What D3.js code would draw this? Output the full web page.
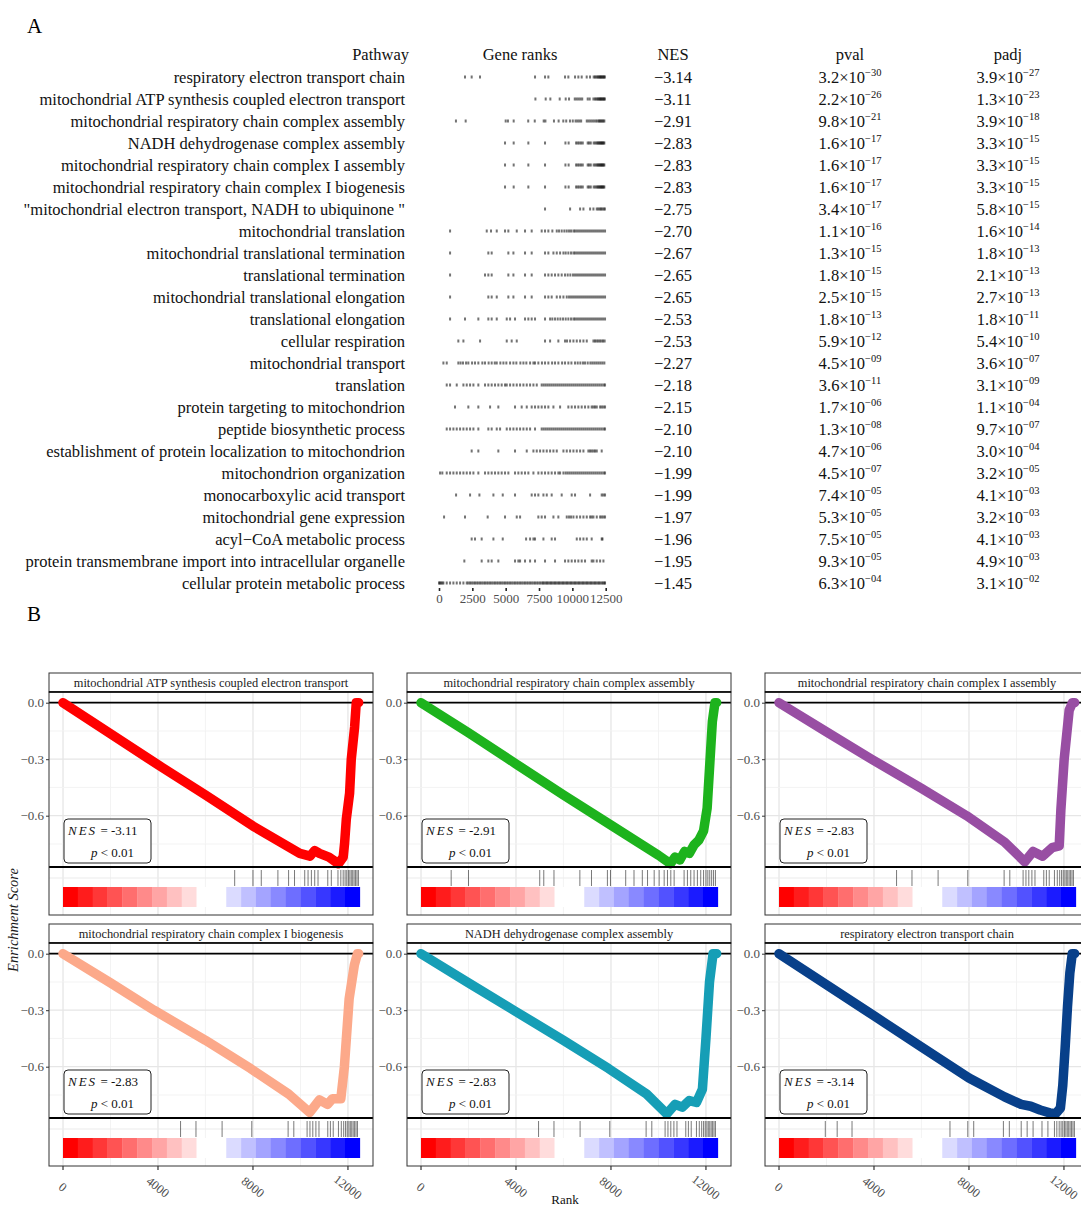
<!DOCTYPE html>
<html>
<head>
<meta charset="utf-8">
<script src="https://cdn.jsdelivr.net/npm/d3@7"></script>
<style>
  body { margin: 0; background: #fff; }
  text { font-family: "Liberation Serif", "Times New Roman", serif; }
</style>
</head>
<body>
<script>
// ---- panel A table data ----
const pathways = [
  "respiratory electron transport chain",
  "mitochondrial ATP synthesis coupled electron transport",
  "mitochondrial respiratory chain complex assembly",
  "NADH dehydrogenase complex assembly",
  "mitochondrial respiratory chain complex I assembly",
  "mitochondrial respiratory chain complex I biogenesis",
  "\"mitochondrial electron transport, NADH to ubiquinone \"",
  "mitochondrial translation",
  "mitochondrial translational termination",
  "translational termination",
  "mitochondrial translational elongation",
  "translational elongation",
  "cellular respiration",
  "mitochondrial transport",
  "translation",
  "protein targeting to mitochondrion",
  "peptide biosynthetic process",
  "establishment of protein localization to mitochondrion",
  "mitochondrion organization",
  "monocarboxylic acid transport",
  "mitochondrial gene expression",
  "acyl\u2212CoA metabolic process",
  "protein transmembrane import into intracellular organelle",
  "cellular protein metabolic process"
];
const nesValues = [-3.14, -3.11, -2.91, -2.83, -2.83, -2.83, -2.75, -2.70, -2.67, -2.65, -2.65, -2.53,
  -2.53, -2.27, -2.18, -2.15, -2.10, -2.10, -1.99, -1.99, -1.97, -1.96, -1.95, -1.45];
const pvalValues = [3.2e-30, 2.2e-26, 9.8e-21, 1.6e-17, 1.6e-17, 1.6e-17, 3.4e-17, 1.1e-16, 1.3e-15, 1.8e-15,
  2.5e-15, 1.8e-13, 5.9e-12, 4.5e-9, 3.6e-11, 1.7e-6, 1.3e-8, 4.7e-6, 4.5e-7, 7.4e-5, 5.3e-5, 7.5e-5, 9.3e-5, 6.3e-4];
const padjValues = [3.9e-27, 1.3e-23, 3.9e-18, 3.3e-15, 3.3e-15, 3.3e-15, 5.8e-15, 1.6e-14, 1.8e-13, 2.1e-13,
  2.7e-13, 1.8e-11, 5.4e-10, 3.6e-7, 3.1e-9, 1.1e-4, 9.7e-7, 3.0e-4, 3.2e-5, 4.1e-3, 3.2e-3, 4.1e-3, 4.9e-3, 3.1e-2];
const rankTicks = [0, 2500, 5000, 7500, 10000, 12500];

// gene positions in the ranked list, one list per pathway
const geneRanks = [
  [1950, 2450, 3075, 7200, 7950, 8200, 9450, 9700, 10200, 10450, 10700, 11075, 11325, 11600, 11700, 11800, 11880, 11950, 12020, 12080, 12140, 12200, 12260, 12320, 12380, 12440],
  [7230, 8000, 8350, 9050, 9500, 9750, 10180, 10320, 10460, 10600, 10740, 11150, 11300, 11580, 11700, 11800, 11880, 11950, 12020, 12080, 12140, 12200, 12260, 12320, 12380, 12440],
  [1270, 2000, 5000, 5170, 5600, 6690, 7180, 7850, 7980, 8620, 8970, 9320, 9540, 9820, 10030, 10240, 10380, 10520, 10660, 11080, 11220, 11360, 11500, 11640, 11780, 11900, 12000, 12080, 12160, 12240, 12320, 12400],
  [4950, 5600, 6700, 7950, 9480, 9720, 10280, 10400, 10520, 10650, 10780, 11150, 11260, 11380, 11600, 11720, 11820, 11900, 11970, 12040, 12100, 12160, 12220, 12280, 12340, 12400],
  [4950, 5600, 6700, 7950, 9480, 9720, 10280, 10400, 10520, 10650, 10780, 11150, 11260, 11380, 11600, 11720, 11820, 11900, 11970, 12040, 12100, 12160, 12220, 12280, 12340, 12400],
  [4950, 5600, 6700, 7950, 9480, 9720, 10280, 10400, 10520, 10650, 10780, 11150, 11260, 11380, 11600, 11720, 11820, 11900, 11970, 12040, 12100, 12160, 12220, 12280, 12340, 12400],
  [7950, 9830, 10580, 10830, 11330, 11580, 11830, 11950, 12050, 12150, 12250, 12350, 12440],
  [830, 3580, 3900, 4330, 4950, 5200, 5830, 6450, 6950, 7700, 7950, 8200, 8500, 8830, 9000, 9200, 9400, 9580, 9750, 9900, 10080, 10200, 10350, 10500, 10650, 10800, 10950, 11100, 11250, 11400, 11550, 11700, 11850, 12000, 12150, 12300, 12450],
  [830, 3700, 3950, 5200, 5580, 6450, 6950, 7950, 8200, 8580, 8830, 9080, 9330, 9500, 9700, 9900, 10080, 10200, 10350, 10500, 10650, 10800, 10950, 11100, 11250, 11400, 11550, 11700, 11850, 12000, 12150, 12300, 12450],
  [830, 3450, 3700, 3950, 5200, 5580, 6450, 6950, 7950, 8200, 8450, 8700, 8950, 9200, 9450, 9650, 9850, 10050, 10200, 10350, 10500, 10650, 10800, 10950, 11100, 11250, 11400, 11550, 11700, 11850, 12000, 12150, 12300, 12450],
  [830, 3700, 3950, 4330, 5200, 5580, 6450, 6950, 7950, 8200, 8450, 8830, 9080, 9330, 9580, 9750, 9900, 10050, 10200, 10350, 10500, 10650, 10800, 10950, 11100, 11250, 11400, 11550, 11700, 11850, 12000, 12150, 12300, 12450],
  [830, 1950, 2950, 3700, 3950, 4330, 5080, 5330, 5700, 6450, 6700, 6950, 7200, 7950, 8330, 8500, 8700, 8900, 9100, 9300, 9500, 9700, 9900, 10080, 10200, 10350, 10500, 10650, 10800, 10950, 11100, 11250, 11400, 11550, 11700, 11850, 12000, 12150, 12300, 12450],
  [1450, 1830, 3080, 5080, 5450, 5830, 7950, 8330, 8950, 9450, 9600, 9830, 10080, 10330, 10580, 10830, 11080, 11580, 11700, 11820, 11940, 12060, 12180, 12300, 12420],
  [330, 580, 1450, 1620, 1800, 2030, 2200, 2480, 2700, 2950, 3250, 3450, 3720, 3950, 4180, 4330, 4600, 4830, 5050, 5330, 5580, 5800, 6100, 6330, 6550, 6830, 7080, 7200, 7450, 7720, 7950, 8200, 8480, 8700, 8950, 9230, 9450, 9700, 9930, 10200, 10400, 10600, 10800, 10950, 11150, 11350, 11500, 11650, 11800, 11950, 12100, 12250, 12400],
  [580, 830, 1330, 1830, 2080, 2330, 2580, 2950, 3450, 3700, 3950, 4200, 4450, 4700, 4950, 5080, 5330, 5580, 5830, 6080, 6330, 6580, 6830, 7080, 7330, 7700, 7850, 8000, 8150, 8300, 8450, 8600, 8750, 8900, 9050, 9200, 9350, 9500, 9650, 9800, 9950, 10100, 10250, 10400, 10550, 10700, 10850, 11000, 11150, 11300, 11450, 11600, 11750, 11900, 12050, 12200, 12350, 12450],
  [1200, 2200, 2950, 3830, 4450, 5700, 6200, 6580, 6950, 7200, 7450, 7700, 7950, 8200, 8580, 9080, 9700, 9950, 10200, 10450, 10700, 10950, 11200, 11450, 11580, 11700, 11830, 12080, 12200, 12330, 12450],
  [580, 830, 1080, 1330, 1580, 1830, 2080, 2330, 2580, 2950, 3700, 3950, 4330, 4580, 5080, 5330, 5580, 5830, 6080, 6330, 6580, 6830, 7200, 7700, 7850, 8000, 8150, 8300, 8450, 8600, 8750, 8900, 9050, 9200, 9350, 9500, 9650, 9800, 9950, 10100, 10250, 10400, 10550, 10700, 10850, 11000, 11150, 11300, 11450, 11600, 11750, 11900, 12050, 12200, 12350, 12450],
  [2450, 2950, 4450, 5700, 6580, 7080, 7330, 7580, 7830, 8080, 8330, 8580, 8830, 9330, 9580, 9830, 10080, 10330, 10580, 10830, 11200, 11330, 11450, 11580, 11700, 11830, 12200],
  [80, 250, 580, 830, 1080, 1330, 1580, 1830, 2080, 2330, 2580, 2950, 3450, 3700, 3950, 4200, 4450, 4700, 4950, 5200, 5700, 5950, 6200, 6450, 6700, 7080, 7450, 7700, 7950, 8200, 8450, 8700, 8950, 9080, 9330, 9500, 9650, 9800, 9950, 10100, 10250, 10400, 10550, 10700, 10850, 11000, 11150, 11300, 11450, 11600, 11750, 11900, 12050, 12200, 12350, 12450],
  [1280, 2330, 3030, 4080, 4780, 5700, 6950, 7200, 7450, 7830, 8080, 8450, 9200, 9950, 10200, 11330, 12200, 12330, 12450],
  [380, 1950, 3650, 4950, 5830, 6080, 7450, 7700, 7950, 8580, 8950, 9580, 9750, 9900, 10080, 10330, 10580, 10830, 11080, 11330, 11450, 11580, 11830, 12080, 12200, 12330, 12450],
  [2450, 2700, 3200, 4080, 4780, 6530, 6830, 7080, 7200, 7830, 8450, 8700, 10330, 10580, 10830, 11080, 11450, 12200, 12260],
  [1900, 3200, 3700, 3950, 4450, 5700, 5950, 6080, 6450, 6830, 7200, 7950, 8700, 9450, 9700, 9950, 10200, 10450, 10700, 10950, 11450, 11580, 11830, 12080, 12330],
  [0, 60, 150, 250, 330, 580, 830, 1080, 1330, 1580, 1830, 2080, 2200, 2330, 2450, 2580, 2700, 2830, 2950, 3080, 3200, 3330, 3450, 3580, 3700, 3830, 3950, 4080, 4200, 4330, 4450, 4580, 4700, 4830, 4950, 5080, 5200, 5330, 5450, 5580, 5700, 5830, 5950, 6080, 6200, 6330, 6450, 6580, 6700, 6830, 6950, 7080, 7200, 7330, 7450, 7580, 7700, 7800, 7900, 8000, 8100, 8200, 8300, 8400, 8500, 8600, 8700, 8800, 8900, 9000, 9100, 9200, 9300, 9400, 9500, 9600, 9700, 9800, 9900, 10000, 10100, 10200, 10300, 10400, 10500, 10600, 10700, 10800, 10900, 11000, 11100, 11200, 11300, 11400, 11500, 11600, 11700, 11800, 11900, 12000, 12100, 12200, 12300, 12400, 12450]
];

// ---- panel B: six running enrichment score plots ----
const plotSets = [1, 2, 4, 5, 3, 0];   // index into pathways
const plotColors = ["#FF0000", "#1DB31D", "#984EA3", "#FCA98A", "#169EB6", "#08408A"];
const esCurves = [
  [[0, 0], [2000, -0.165], [4000, -0.33], [6000, -0.49], [8000, -0.655], [9970, -0.80], [10400, -0.815], [10600, -0.785], [10800, -0.80], [11200, -0.82], [11600, -0.855], [11800, -0.82], [11860, -0.745], [11930, -0.62], [12070, -0.48], [12140, -0.30], [12280, -0.13], [12350, 0], [12450, 0]],
  [[0, 0], [2000, -0.16], [4000, -0.325], [6000, -0.49], [8000, -0.65], [10000, -0.81], [10500, -0.855], [10700, -0.82], [10900, -0.835], [11100, -0.79], [11300, -0.80], [11500, -0.755], [11700, -0.73], [11900, -0.68], [12050, -0.56], [12150, -0.35], [12270, -0.10], [12380, 0], [12450, 0]],
  [[0, 0], [2000, -0.155], [3900, -0.30], [6000, -0.455], [7900, -0.60], [9500, -0.74], [10350, -0.845], [10700, -0.79], [11100, -0.815], [11500, -0.77], [11800, -0.76], [11870, -0.57], [12010, -0.30], [12220, -0.04], [12360, 0], [12450, 0]],
  [[0, 0], [2000, -0.155], [3830, -0.30], [6000, -0.46], [7900, -0.61], [9500, -0.745], [10390, -0.843], [10800, -0.776], [11140, -0.80], [11350, -0.77], [11700, -0.77], [11850, -0.60], [12050, -0.24], [12270, -0.06], [12400, 0], [12450, 0]],
  [[0, 0], [2000, -0.155], [3900, -0.30], [6000, -0.46], [7900, -0.61], [9500, -0.745], [10350, -0.85], [10700, -0.80], [11000, -0.815], [11300, -0.78], [11600, -0.79], [11850, -0.72], [12000, -0.45], [12150, -0.15], [12300, 0], [12450, 0]],
  [[0, 0], [2000, -0.165], [4000, -0.33], [6000, -0.495], [8000, -0.66], [9500, -0.76], [10200, -0.80], [10600, -0.81], [11000, -0.83], [11400, -0.845], [11650, -0.85], [11850, -0.82], [11950, -0.70], [12050, -0.50], [12150, -0.28], [12250, -0.10], [12350, 0], [12450, 0]]
];
const esTicks = [0, -0.3, -0.6];
const esMinorTicks = [-0.15, -0.45, -0.75];
const rankAxisTicks = [0, 4000, 8000, 12000];
const rankMinorTicks = [2000, 6000, 10000];

const W = 1081, H = 1207;
const svg = d3.select("body").append("svg").attr("width", W).attr("height", H);

// superscript helper for p values
function sci(v) {
  const parts = v.toExponential(1).split("e");
  const n = +parts[1];
  return [parts[0] + "\u00d710", (n < 0 ? "\u2212" : "") + String(Math.abs(n)).padStart(2, "0")];
}

// ================= Panel A =================
svg.append("text").attr("x", 27).attr("y", 33).attr("font-size", 21).text("A");

const rowY = d3.scaleLinear().domain([0, pathways.length - 1]).range([77, 583]);
const xr = d3.scaleLinear().domain([0, 12500]).range([439, 605.7]);
const colNES = 673, colP = 850, colPadj = 1008;
const fs = 16.5;

const head = svg.append("g").attr("font-size", fs).attr("fill", "#111");
head.append("text").attr("x", 409).attr("y", 60).attr("text-anchor", "end").text("Pathway");
head.append("text").attr("x", 520).attr("y", 60).attr("text-anchor", "middle").text("Gene ranks");
head.append("text").attr("x", colNES).attr("y", 60).attr("text-anchor", "middle").text("NES");
head.append("text").attr("x", colP).attr("y", 60).attr("text-anchor", "middle").text("pval");
head.append("text").attr("x", colPadj).attr("y", 60).attr("text-anchor", "middle").text("padj");

const rows = svg.append("g").selectAll("g").data(pathways).join("g")
  .attr("transform", (d, i) => "translate(0," + rowY(i) + ")");

rows.append("text").attr("x", 405).attr("y", 5.5).attr("text-anchor", "end")
  .attr("font-size", fs).attr("fill", "#111").text(d => d);

rows.append("text").attr("x", colNES).attr("y", 5.5).attr("text-anchor", "middle")
  .attr("font-size", fs).attr("fill", "#111")
  .text((d, i) => "\u2212" + Math.abs(nesValues[i]).toFixed(2));

function sciText(sel, x, vals) {
  sel.each(function (d, i) {
    const s = sci(vals[i]);
    const t = d3.select(this).append("text").attr("x", x).attr("y", 5.5)
      .attr("text-anchor", "middle").attr("font-size", fs).attr("fill", "#111");
    t.append("tspan").text(s[0]);
    t.append("tspan").attr("dy", -6.5).attr("font-size", 10.5).text(s[1]);
  });
}
sciText(rows, colP, pvalValues);
sciText(rows, colPadj, padjValues);

// gene rank dots
rows.each(function (d, i) {
  d3.select(this).selectAll("rect").data(geneRanks[i]).join("rect")
    .attr("x", r => xr(r) - 1).attr("y", -1.5)
    .attr("width", 2).attr("height", 3)
    .attr("fill", "#000").attr("opacity", 0.55);
});

const axA = svg.append("g").attr("transform", "translate(0,588)")
  .call(d3.axisBottom(xr).tickValues(rankTicks).tickFormat(d3.format("d")).tickSize(3).tickPadding(3));
axA.select(".domain").remove();
axA.selectAll(".tick line").attr("stroke", "#222").attr("stroke-width", 1.6);
axA.selectAll(".tick text").attr("font-size", 13).attr("fill", "#4D4D4D")
  .attr("font-family", "Liberation Serif, serif");

// ================= Panel B =================
svg.append("text").attr("x", 27).attr("y", 621).attr("font-size", 21).text("B");

const colLeft = [49, 407, 765], rowTop = [673, 924];
const pw = 324, stripH = 19, esH = 175, lowH = 48;
const xs = d3.scaleLinear().domain([-590, 13055]).range([0, pw]);
const ys = d3.scaleLinear().domain([-0.8724, 0.0568]).range([esH, 0]);
const segW = 625;
const redShades = d3.range(9).map(k => d3.interpolateRgb("#FF0000", "#FFFFFF")(k * 0.108));
const blueShades = d3.range(9).map(k => d3.interpolateRgb("#FFFFFF", "#0000FF")(0.14 + k * 0.1075));
const barColors = redShades.concat(["#FFFFFF", "#FFFFFF"], blueShades);

plotSets.forEach((setIdx, k) => {
  const col = k % 3, row = Math.floor(k / 3);
  const g = svg.append("g").attr("transform", "translate(" + colLeft[col] + "," + rowTop[row] + ")");

  // strip
  g.append("rect").attr("x", 0).attr("y", 0).attr("width", pw).attr("height", stripH)
    .attr("fill", "#fff").attr("stroke", "#333").attr("stroke-width", 1);
  g.append("text").attr("x", pw / 2).attr("y", stripH / 2 + 4.5).attr("text-anchor", "middle")
    .attr("font-size", 12.4).attr("fill", "#1A1A1A").text(pathways[setIdx]);

  const p = g.append("g").attr("transform", "translate(0," + stripH + ")");
  p.append("rect").attr("width", pw).attr("height", esH + lowH).attr("fill", "#fff");

  // grid
  p.selectAll(".vmin").data(rankMinorTicks).join("line")
    .attr("x1", d => xs(d)).attr("x2", d => xs(d)).attr("y1", 0).attr("y2", esH + lowH)
    .attr("stroke", "#F2F2F2").attr("stroke-width", 0.9);
  p.selectAll(".vmaj").data(rankAxisTicks).join("line")
    .attr("x1", d => xs(d)).attr("x2", d => xs(d)).attr("y1", 0).attr("y2", esH + lowH)
    .attr("stroke", "#E6E6E6").attr("stroke-width", 1.3);
  p.selectAll(".hmin").data(esMinorTicks).join("line")
    .attr("x1", 0).attr("x2", pw).attr("y1", d => ys(d)).attr("y2", d => ys(d))
    .attr("stroke", "#F2F2F2").attr("stroke-width", 0.9);
  p.selectAll(".hmaj").data(esTicks).join("line")
    .attr("x1", 0).attr("x2", pw).attr("y1", d => ys(d)).attr("y2", d => ys(d))
    .attr("stroke", "#E6E6E6").attr("stroke-width", 1.3);
  p.append("line").attr("x1", 0).attr("x2", pw).attr("y1", esH + 11).attr("y2", esH + 11)
    .attr("stroke", "#EBEBEB").attr("stroke-width", 1.2);

  // zero line
  p.append("line").attr("x1", 0).attr("x2", pw).attr("y1", ys(0)).attr("y2", ys(0))
    .attr("stroke", "#000").attr("stroke-width", 1.7);

  // running score
  p.append("path").datum(esCurves[k])
    .attr("fill", "none").attr("stroke", plotColors[k]).attr("stroke-width", 9.5)
    .attr("stroke-linecap", "round").attr("stroke-linejoin", "round")
    .attr("d", d3.line().x(d => xs(d[0])).y(d => ys(d[1])));

  // NES box
  const box = p.append("g").attr("transform", "translate(15,127)");
  box.append("rect").attr("width", 87).attr("height", 44).attr("rx", 4)
    .attr("fill", "#fff").attr("stroke", "#222").attr("stroke-width", 1);
  const t1 = box.append("text").attr("x", 4).attr("y", 16).attr("font-size", 13).attr("fill", "#111");
  t1.append("tspan").attr("font-style", "italic").attr("letter-spacing", 2).text("NES");
  t1.append("tspan").text(" = -" + Math.abs(nesValues[setIdx]).toFixed(2));
  const t2 = box.append("text").attr("x", 27).attr("y", 38).attr("font-size", 13).attr("fill", "#111");
  t2.append("tspan").attr("font-style", "italic").text("p");
  t2.append("tspan").text(" < 0.01");

  // separator between score and hits
  p.append("line").attr("x1", 0).attr("x2", pw).attr("y1", esH).attr("y2", esH)
    .attr("stroke", "#000").attr("stroke-width", 1.8);

  // hits
  p.selectAll(".hit").data(geneRanks[setIdx]).join("line")
    .attr("x1", d => xs(d)).attr("x2", d => xs(d))
    .attr("y1", esH + 3).attr("y2", esH + 19)
    .attr("stroke", "#111").attr("stroke-opacity", 0.7).attr("stroke-width", 0.8);

  // rank colour bar
  p.selectAll(".seg").data(barColors).join("rect")
    .attr("x", (c, i) => xs(i * segW)).attr("width", (c, i) => xs((i + 1) * segW) - xs(i * segW) + 0.3)
    .attr("y", esH + 20).attr("height", 20).attr("fill", c => c);

  // frame
  p.append("rect").attr("width", pw).attr("height", esH + lowH)
    .attr("fill", "none").attr("stroke", "#333").attr("stroke-width", 1);
  p.append("line").attr("x1", 0).attr("x2", pw).attr("y1", 0).attr("y2", 0)
    .attr("stroke", "#000").attr("stroke-width", 1.7);

  // y axis
  const ya = p.append("g").call(d3.axisLeft(ys).tickValues(esTicks).tickSize(3).tickPadding(2)
    .tickFormat(d => d === 0 ? "0.0" : "\u2212" + Math.abs(d).toFixed(1)));
  ya.select(".domain").remove();
  ya.selectAll(".tick line").attr("stroke", "#333");
  ya.selectAll(".tick text").attr("font-size", 13).attr("fill", "#4D4D4D")
    .attr("font-family", "Liberation Serif, serif");

  // x axis on bottom row
  if (row === 1) {
    const bottom = stripH + esH + lowH;
    const xa = g.append("g").attr("transform", "translate(0," + bottom + ")");
    xa.selectAll("line").data(rankAxisTicks).join("line")
      .attr("x1", d => xs(d)).attr("x2", d => xs(d)).attr("y1", 0).attr("y2", 4)
      .attr("stroke", "#333").attr("stroke-width", 1.2);
    xa.selectAll("text").data(rankAxisTicks).join("text")
      .attr("transform", d => "translate(" + xs(d) + ",21) rotate(38)")
      .attr("text-anchor", "middle").attr("dy", "0.35em")
      .attr("font-size", 12.5).attr("fill", "#4D4D4D").text(d => d);
  }
});

svg.append("text").attr("transform", "translate(18,920) rotate(-90)")
  .attr("text-anchor", "middle").attr("font-size", 14.5).attr("font-style", "italic")
  .attr("fill", "#1A1A1A").text("Enrichment Score");
svg.append("text").attr("x", 565).attr("y", 1204).attr("text-anchor", "middle")
  .attr("font-size", 13).attr("fill", "#111").text("Rank");
</script>
</body>
</html>
